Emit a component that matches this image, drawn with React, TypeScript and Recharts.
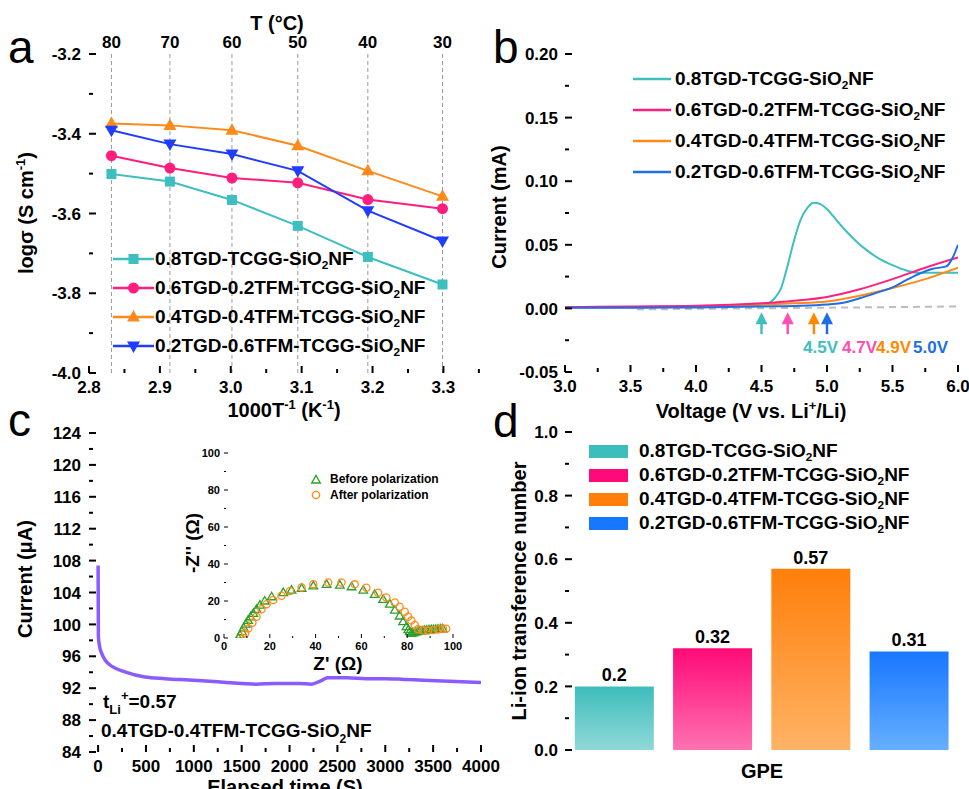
import React from "react";
import {
  Bar,
  BarChart,
  Cell,
  ComposedChart,
  LabelList,
  Legend,
  Line,
  LineChart,
  ReferenceArea,
  ReferenceLine,
  Scatter,
  ScatterChart,
  XAxis,
  YAxis,
} from "recharts";

const FONT = '"Liberation Sans", Arial, Helvetica, sans-serif';

const sampleNames = [
  "0.8TGD-TCGG-SiO2NF",
  "0.6TGD-0.2TFM-TCGG-SiO2NF",
  "0.4TGD-0.4TFM-TCGG-SiO2NF",
  "0.2TGD-0.6TFM-TCGG-SiO2NF",
];

// (a) Arrhenius plot
const aTempC = [80, 70, 60, 50, 40, 30];
const aTeal = [-3.501, -3.52, -3.566, -3.631, -3.709, -3.778];
const aPink = [-3.455, -3.486, -3.511, -3.523, -3.565, -3.588];
const aOrange = [-3.374, -3.379, -3.391, -3.43, -3.493, -3.557];
const aBlue = [-3.391, -3.426, -3.451, -3.493, -3.593, -3.669];
const aXMajor = [2.8, 2.9, 3.0, 3.1, 3.2, 3.3];
const aXMinor = [2.85, 2.95, 3.05, 3.15, 3.25, 3.35];
const aYMajor = [-4.0, -3.8, -3.6, -3.4, -3.2];
const aYMinor = [-3.9, -3.7, -3.5, -3.3];

// (b) LSV
const bTealV = [3.0, 3.5, 4.0, 4.4, 4.5, 4.55, 4.6, 4.65, 4.7, 4.75, 4.8, 4.85, 4.9, 4.95, 5.0, 5.1, 5.2, 5.3, 5.4, 5.5, 5.6, 5.7, 5.8, 6.0];
const bTealI = [0.001, 0.001, 0.0015, 0.002, 0.003, 0.004, 0.008, 0.016, 0.034, 0.054, 0.07, 0.079, 0.083, 0.082, 0.078, 0.066, 0.055, 0.046, 0.039, 0.034, 0.03, 0.028, 0.028, 0.028];
const bPinkV = [3.0, 3.5, 4.0, 4.5, 4.75, 5.0, 5.25, 5.5, 5.75, 6.0];
const bPinkI = [0.001, 0.0015, 0.002, 0.004, 0.006, 0.009, 0.015, 0.023, 0.032, 0.04];
const bOrangeV = [3.0, 3.5, 4.0, 4.5, 4.75, 5.0, 5.25, 5.5, 5.75, 6.0];
const bOrangeI = [0.001, 0.001, 0.0015, 0.003, 0.004, 0.0055, 0.01, 0.016, 0.023, 0.032];
const bBlueV = [3.0, 3.5, 4.0, 4.5, 4.8, 5.0, 5.1, 5.25, 5.4, 5.5, 5.6, 5.7, 5.8, 5.91, 5.96, 6.0];
const bBlueI = [0.0005, 0.0006, 0.0008, 0.0015, 0.002, 0.003, 0.004, 0.008, 0.013, 0.0165, 0.022, 0.027, 0.031, 0.033, 0.04, 0.05];
const bBaseV = [3.55, 6.0];
const bBaseI = [-0.0008, 0.0015];
const bOnset = [4.5, 4.7, 4.9, 5.0];
const bOnsetLabels = ["4.5V", "4.7V", "4.9V", "5.0V"];
const bArrowTip = -0.003;
const bXMajor = [3.0, 3.5, 4.0, 4.5, 5.0, 5.5, 6.0];
const bXMinor = [3.25, 3.75, 4.25, 4.75, 5.25, 5.75];
const bYMajor = [-0.05, 0, 0.05, 0.1, 0.15, 0.2];
const bYMinor = [-0.025, 0.025, 0.075, 0.125, 0.175];

// (c) chronoamperometry + EIS inset
const cTime = [0, 3, 15, 40, 75, 150, 280, 490, 700, 1000, 1250, 1500, 1650, 1850, 2100, 2230, 2320, 2400, 2600, 2800, 3000, 3200, 3400, 3600, 3800, 4000];
const cCurrent = [107.4, 98.5, 97.3, 96.3, 95.5, 94.7, 94.05, 93.4, 93.2, 93.0, 92.8, 92.6, 92.5, 92.6, 92.6, 92.5, 92.9, 93.3, 93.3, 93.2, 93.2, 93.1, 93.0, 92.9, 92.8, 92.7];
const cXMajor = [0, 500, 1000, 1500, 2000, 2500, 3000, 3500, 4000];
const cXMinor = [250, 750, 1250, 1750, 2250, 2750, 3250, 3750];
const cYMajor = [84, 88, 92, 96, 100, 104, 108, 112, 116, 120, 124];
const cYMinor = [86, 90, 94, 98, 102, 106, 110, 114, 118, 122];

const zBeforeRe = [6.3, 7, 7.8, 8.6, 9.5, 10.5, 11.6, 12.8, 14.2, 15.7, 17.8, 20.8, 25.9, 29.5, 33.9, 39, 44.8, 50.6, 55.7, 60.8, 65.8, 69.5, 72.4, 74.6, 76.7, 78.2, 79.7, 80.5, 81.1, 81.8, 82.6, 83.5, 84.5, 85.5, 86.5, 87.5, 88.5, 89.5, 90.5, 91.5, 92.5, 93.5, 94.5, 95.5];
const zBeforeIm = [0, 1.5, 3.5, 5.5, 7.5, 9.5, 11.5, 13.3, 15.5, 17.8, 20, 22.3, 24.5, 25.9, 26.8, 28.2, 29, 28.6, 27.7, 25.9, 23.6, 20.9, 18.3, 15.1, 11.9, 8.8, 6.1, 4.5, 3.4, 2.5, 2.8, 3.2, 3.5, 3.7, 3.9, 4.1, 4.3, 4.4, 4.5, 4.6, 4.7, 4.8, 4.9, 5];
const zAfterRe = [8.4, 9.2, 10.6, 12.4, 14.2, 16.4, 18.6, 21.5, 25.1, 28.8, 33.9, 39, 45.5, 51.3, 57.1, 62.2, 67.3, 70.9, 74.6, 76.7, 78.9, 80.4, 81.8, 83.3, 84.7, 86.9, 89.1, 91.3, 93.5, 95.6, 97];
const zAfterIm = [0, 2.5, 5.2, 8.3, 11.5, 15.5, 18.3, 20.5, 22.8, 25.4, 27.3, 29.1, 30, 30, 29, 27.2, 24.5, 21.9, 19.2, 16.9, 14.2, 11.5, 9.4, 7, 4.7, 4, 4, 4.3, 4.7, 5, 5];
const zMajor = [0, 20, 40, 60, 80, 100];
const zMinor = [10, 30, 50, 70, 90];

// (d) transference number
const dValues = [0.2, 0.32, 0.57, 0.31];
const dYMajor = [0, 0.2, 0.4, 0.6, 0.8, 1.0];
const dYMinor = [0.1, 0.3, 0.5, 0.7, 0.9];

const tealA = "#3DBFBF";
const pinkA = "#FF1E7D";
const orangeA = "#FF8A1C";
const blueA = "#1F3CFF";
const bColors = ["#40BFBF", "#FF1F80", "#FF8A1A", "#1E6EE6"];
const bArrowColors = ["#40BFBF", "#FF4DB0", "#FF8A00", "#1E6EE6"];
const dTop = ["#3DBDBC", "#FF0A78", "#FF7F0A", "#1877FF"];
const dBottom = ["#90D9D7", "#FF72B1", "#FFB366", "#66AFFF"];

const aInvT = aTempC.map((t) => 1000 / (t + 273.15));
const aRows = aInvT.map((x, i) => ({ x, teal: aTeal[i], pink: aPink[i], orange: aOrange[i], blue: aBlue[i] }));
const aSeries = [
  { key: "teal", color: tealA, shape: "square" },
  { key: "pink", color: pinkA, shape: "circle" },
  { key: "orange", color: orangeA, shape: "up" },
  { key: "blue", color: blueA, shape: "down" },
];

const rows = (xs: number[], ys: number[]) => xs.map((v, k) => ({ v, i: ys[k] }));
const bLines = [
  { name: sampleNames[0], data: rows(bTealV, bTealI), color: bColors[0] },
  { name: sampleNames[2], data: rows(bOrangeV, bOrangeI), color: bColors[2] },
  { name: sampleNames[1], data: rows(bPinkV, bPinkI), color: bColors[1] },
  { name: sampleNames[3], data: rows(bBlueV, bBlueI), color: bColors[3] },
];
const bArrowRows = bOnset.map((v, k) => ({ v, i: bArrowTip, k }));

const cRows = cTime.map((t, k) => ({ t, c: cCurrent[k] }));
const zBefore = zBeforeRe.map((re, k) => ({ re, im: zBeforeIm[k] }));
const zAfter = zAfterRe.map((re, k) => ({ re, im: zAfterIm[k] }));
const dRows = sampleNames.map((name, k) => ({ name, t: dValues[k] }));

function withSub(name: string) {
  const [pre, post] = name.split("SiO2");
  return (
    <>
      {pre}SiO<sub style={{ fontSize: "0.62em", verticalAlign: "-0.3em", lineHeight: 0 }}>2</sub>
      {post}
    </>
  );
}

type Side = "bottom" | "left";
function axisTick(
  side: Side,
  majors: number[],
  fmt: (v: number) => string,
  o: { fs?: number; major?: number; minor?: number; gap?: number; sw?: number } = {}
) {
  const fs = o.fs ?? 17;
  const big = o.major ?? 7;
  const small = o.minor ?? 4;
  const gap = o.gap ?? 20;
  const sw = o.sw ?? 2;
  return (p: any) => {
    const v = Number(p.payload.value);
    const isMajor = majors.some((m) => Math.abs(m - v) < 1e-6);
    const len = isMajor ? big : small;
    const label = (x: number, y: number, anchor: "middle" | "end") => (
      <text x={x} y={y} textAnchor={anchor} fontFamily={FONT} fontWeight={700} fontSize={fs} fill="#000">
        {fmt(v)}
      </text>
    );
    if (side === "bottom") {
      return (
        <g>
          {len > 0 && <line x1={p.x} x2={p.x} y1={p.y} y2={p.y - len} stroke="#000" strokeWidth={sw} />}
          {isMajor && label(p.x, p.y + gap, "middle")}
        </g>
      );
    }
    return (
      <g>
        {len > 0 && <line x1={p.x} x2={p.x + len} y1={p.y} y2={p.y} stroke="#000" strokeWidth={sw} />}
        {isMajor && label(p.x - gap, p.y + fs * 0.36, "end")}
      </g>
    );
  };
}

function marker(shape: string, cx: number, cy: number, color: string, key?: any) {
  if (shape === "square") return <rect key={key} x={cx - 5} y={cy - 5} width={10} height={10} fill={color} />;
  if (shape === "circle") return <circle key={key} cx={cx} cy={cy} r={5.5} fill={color} />;
  if (shape === "up")
    return <path key={key} d={`M${cx},${cy - 7} L${cx + 6.5},${cy + 4.5} L${cx - 6.5},${cy + 4.5} Z`} fill={color} />;
  return <path key={key} d={`M${cx},${cy + 7} L${cx + 6.5},${cy - 4.5} L${cx - 6.5},${cy - 4.5} Z`} fill={color} />;
}

const legendText: React.CSSProperties = {
  fontFamily: FONT,
  fontWeight: 700,
  fontSize: 19,
  color: "#000",
  whiteSpace: "nowrap",
};

function LegendA() {
  return (
    <div style={legendText}>
      {aSeries.map((s, k) => (
        <div key={s.key} style={{ display: "flex", alignItems: "center", height: 29 }}>
          <svg width={41} height={16}>
            <line x1={0} y1={8} x2={41} y2={8} stroke={s.color} strokeWidth={2.5} />
            {marker(s.shape, 20.5, 8, s.color)}
          </svg>
          <span style={{ marginLeft: 1 }}>{withSub(sampleNames[k])}</span>
        </div>
      ))}
    </div>
  );
}

function LegendB() {
  return (
    <div style={legendText}>
      {sampleNames.map((n, k) => (
        <div key={n} style={{ display: "flex", alignItems: "center", height: 31 }}>
          <svg width={38} height={10}>
            <line x1={0} y1={5} x2={38} y2={5} stroke={bColors[k]} strokeWidth={2.5} />
          </svg>
          <span style={{ marginLeft: 4 }}>{withSub(n)}</span>
        </div>
      ))}
    </div>
  );
}

function LegendD() {
  return (
    <div style={legendText}>
      {sampleNames.map((n, k) => (
        <div key={n} style={{ display: "flex", alignItems: "center", height: 24 }}>
          <div style={{ width: 39, height: 13, background: dTop[k] }} />
          <span style={{ marginLeft: 11 }}>{withSub(n)}</span>
        </div>
      ))}
    </div>
  );
}

const triPath = (cx: number, cy: number) => `M${cx},${cy - 4.5} L${cx + 4.3},${cy + 3} L${cx - 4.3},${cy + 3} Z`;

function LegendInset() {
  const row: React.CSSProperties = { display: "flex", alignItems: "center", height: 16 };
  return (
    <div style={{ ...legendText, fontSize: 12 }}>
      <div style={row}>
        <svg width={12} height={12}>
          <path d={triPath(6, 7)} fill="none" stroke="#2CA02C" strokeWidth={1.4} />
        </svg>
        <span style={{ marginLeft: 8 }}>Before polarization</span>
      </div>
      <div style={row}>
        <svg width={12} height={12}>
          <circle cx={6} cy={6} r={3.6} fill="none" stroke="#FF8C1A" strokeWidth={1.4} />
        </svg>
        <span style={{ marginLeft: 8 }}>After polarization</span>
      </div>
    </div>
  );
}

const frame = <ReferenceArea fill="none" stroke="#000" strokeWidth={2} ifOverflow="visible" />;

function PanelA() {
  return (
    <LineChart width={490} height={420} data={aRows} margin={{ top: 54, right: 9, bottom: 17, left: 29 }}>
      <XAxis
        type="number"
        dataKey="x"
        domain={[2.8, 3.353]}
        allowDataOverflow
        ticks={[...aXMajor, ...aXMinor]}
        interval={0}
        tickSize={0}
        tickMargin={0}
        axisLine={false}
        height={30}
        tick={axisTick("bottom", aXMajor, (v) => v.toFixed(1))}
      />
      <YAxis
        type="number"
        domain={[-4, -3.2]}
        allowDataOverflow
        ticks={[...aYMajor, ...aYMinor]}
        interval={0}
        tickSize={0}
        tickMargin={0}
        axisLine={false}
        width={60}
        tick={axisTick("left", aYMajor, (v) => v.toFixed(1), { gap: 8 })}
      />
      {aInvT.map((x, k) => (
        <ReferenceLine
          key={x}
          x={x}
          stroke="#9a9a9a"
          strokeDasharray="4 3"
          strokeWidth={1}
          label={{
            value: String(aTempC[k]),
            position: "top",
            offset: 6,
            fill: "#000",
            fontSize: 17,
            fontWeight: 700,
            fontFamily: FONT,
          }}
        />
      ))}
      {frame}
      {aSeries.map((s) => (
        <Line
          key={s.key}
          dataKey={s.key}
          stroke={s.color}
          strokeWidth={2}
          isAnimationActive={false}
          activeDot={false}
          dot={(p: any) => marker(s.shape, p.cx, p.cy, s.color, p.index)}
        />
      ))}
      <Legend
        layout="vertical"
        align="center"
        verticalAlign="middle"
        wrapperStyle={{ left: 113, top: 244, width: "auto" }}
        content={() => <LegendA />}
      />
    </LineChart>
  );
}

function arrowShape(p: any) {
  const { cx, cy } = p;
  const color = bArrowColors[p.payload.k];
  return (
    <g>
      <line x1={cx} y1={cy + 8} x2={cx} y2={cy + 22} stroke={color} strokeWidth={2.5} />
      <path d={`M${cx},${cy} L${cx + 6},${cy + 12} L${cx - 6},${cy + 12} Z`} fill={color} />
    </g>
  );
}

function PanelB() {
  return (
    <ComposedChart width={489} height={420} margin={{ top: 54, right: 11, bottom: 18, left: 25 }}>
      <XAxis
        type="number"
        dataKey="v"
        domain={[3, 6]}
        allowDataOverflow
        ticks={[...bXMajor, ...bXMinor]}
        interval={0}
        tickSize={0}
        tickMargin={0}
        axisLine={false}
        height={30}
        tick={axisTick("bottom", bXMajor, (v) => v.toFixed(1))}
      />
      <YAxis
        type="number"
        dataKey="i"
        domain={[-0.05, 0.2]}
        allowDataOverflow
        ticks={[...bYMajor, ...bYMinor]}
        interval={0}
        tickSize={0}
        tickMargin={0}
        axisLine={false}
        width={60}
        tick={axisTick("left", bYMajor, (v) => v.toFixed(2), { gap: 7 })}
      />
      {frame}
      <Line
        data={rows(bBaseV, bBaseI)}
        dataKey="i"
        stroke="#BDBDBD"
        strokeDasharray="7 5"
        strokeWidth={2}
        dot={false}
        activeDot={false}
        isAnimationActive={false}
      />
      {bLines.map((s) => (
        <Line
          key={s.name}
          data={s.data}
          dataKey="i"
          type="monotone"
          stroke={s.color}
          strokeWidth={2}
          dot={false}
          activeDot={false}
          isAnimationActive={false}
        />
      ))}
      <Scatter data={bArrowRows} dataKey="i" shape={arrowShape} isAnimationActive={false} />
      <Legend
        layout="vertical"
        align="center"
        verticalAlign="middle"
        wrapperStyle={{ left: 153, top: 63, width: "auto" }}
        content={() => <LegendB />}
      />
    </ComposedChart>
  );
}

function PanelC() {
  return (
    <LineChart width={510} height={389} data={cRows} margin={{ top: 33, right: 29, bottom: 7, left: 29 }}>
      <XAxis
        type="number"
        dataKey="t"
        domain={[-95, 4000]}
        allowDataOverflow
        ticks={[...cXMajor, ...cXMinor]}
        interval={0}
        tickSize={0}
        tickMargin={0}
        axisLine={false}
        height={30}
        tick={axisTick("bottom", cXMajor, (v) => String(v))}
      />
      <YAxis
        type="number"
        domain={[84, 124]}
        allowDataOverflow
        ticks={[...cYMajor, ...cYMinor]}
        interval={0}
        tickSize={0}
        tickMargin={0}
        axisLine={false}
        width={60}
        tick={axisTick("left", cYMajor, (v) => String(v), { gap: 8 })}
      />
      {frame}
      <Line
        dataKey="c"
        type="monotone"
        stroke="#8A5CFF"
        strokeWidth={3.5}
        dot={false}
        activeDot={false}
        isAnimationActive={false}
      />
    </LineChart>
  );
}

function PanelInset() {
  return (
    <ScatterChart width={290} height={240} margin={{ top: 13, right: 17, bottom: 17, left: 14 }}>
      <XAxis
        type="number"
        dataKey="re"
        domain={[0, 100]}
        allowDataOverflow
        ticks={[...zMajor, ...zMinor]}
        interval={0}
        tickSize={0}
        tickMargin={0}
        axisLine={false}
        height={25}
        tick={axisTick("bottom", zMajor, (v) => String(v), { fs: 11, gap: 12, major: 4, minor: 2, sw: 1 })}
      />
      <YAxis
        type="number"
        dataKey="im"
        domain={[0, 100]}
        allowDataOverflow
        ticks={[...zMajor, ...zMinor]}
        interval={0}
        tickSize={0}
        tickMargin={0}
        axisLine={false}
        width={30}
        tick={axisTick("left", zMajor, (v) => String(v), { fs: 11, gap: 4, major: 4, minor: 2, sw: 1 })}
      />
      <ReferenceArea fill="none" stroke="#444" strokeWidth={1.2} ifOverflow="visible" />
      <Scatter
        data={zBefore}
        isAnimationActive={false}
        shape={(p: any) => <path d={triPath(p.cx, p.cy)} fill="none" stroke="#2CA02C" strokeWidth={1.3} />}
      />
      <Scatter
        data={zAfter}
        isAnimationActive={false}
        shape={(p: any) => <circle cx={p.cx} cy={p.cy} r={3.6} fill="none" stroke="#FF8C1A" strokeWidth={1.3} />}
      />
      <Legend
        layout="vertical"
        align="center"
        verticalAlign="middle"
        wrapperStyle={{ left: 130, top: 31, width: "auto" }}
        content={() => <LegendInset />}
      />
    </ScatterChart>
  );
}

function PanelD() {
  return (
    <BarChart
      width={489}
      height={389}
      data={dRows}
      margin={{ top: 32, right: 11, bottom: 9, left: 25 }}
      barCategoryGap="10%"
    >
      <defs>
        {dRows.map((_, k) => (
          <linearGradient key={k} id={`dGrad${k}`} x1="0" y1="0" x2="0" y2="1">
            <stop offset="0%" stopColor={dTop[k]} />
            <stop offset="100%" stopColor={dBottom[k]} />
          </linearGradient>
        ))}
      </defs>
      <XAxis dataKey="name" tick={false} axisLine={false} tickLine={false} height={30} />
      <YAxis
        type="number"
        domain={[0, 1]}
        allowDataOverflow
        ticks={[...dYMajor, ...dYMinor]}
        interval={0}
        tickSize={0}
        tickMargin={0}
        axisLine={false}
        width={60}
        tick={axisTick("left", dYMajor, (v) => v.toFixed(1), { gap: 7 })}
      />
      {frame}
      <Bar dataKey="t" isAnimationActive={false}>
        {dRows.map((_, k) => (
          <Cell key={k} fill={`url(#dGrad${k})`} />
        ))}
        <LabelList
          dataKey="t"
          position="top"
          offset={5}
          fill="#000"
          fontSize={18}
          fontWeight={700}
          fontFamily={FONT}
        />
      </Bar>
      <Legend
        layout="vertical"
        align="center"
        verticalAlign="middle"
        wrapperStyle={{ left: 109, top: 39, width: "auto" }}
        content={() => <LegendD />}
      />
    </BarChart>
  );
}

const T = { fontFamily: FONT, fontWeight: 700, fill: "#000" } as const;

function Overlay() {
  return (
    <svg width={969} height={789} style={{ position: "absolute", left: 0, top: 0, pointerEvents: "none" }}>
      <g fontFamily={FONT} fill="#000" fontSize={46}>
        <text x={8} y={63}>a</text>
        <text x={493} y={63}>b</text>
        <text x={8} y={436}>c</text>
        <text x={493} y={437}>d</text>
      </g>
      <g {...T} fontSize={20}>
        <text x={277} y={30} textAnchor="middle">T (°C)</text>
        <text transform="translate(33,213) rotate(-90)" textAnchor="middle">
          logσ (S cm<tspan dy={-8} fontSize={13}>-1</tspan>
          <tspan dy={8}>)</tspan>
        </text>
        <text x={284} y={417} textAnchor="middle">
          1000T<tspan dy={-8} fontSize={13}>-1</tspan>
          <tspan dy={8}> (K</tspan>
          <tspan dy={-8} fontSize={13}>-1</tspan>
          <tspan dy={8}>)</tspan>
        </text>
        <text transform="translate(506,207) rotate(-90)" textAnchor="middle">Current (mA)</text>
        <text x={751} y={418} textAnchor="middle">
          Voltage (V vs. Li<tspan dy={-8} fontSize={13}>+</tspan>
          <tspan dy={8}>/Li)</tspan>
        </text>
        <text transform="translate(32,579) rotate(-90)" textAnchor="middle">Current (μA)</text>
        <text x={285} y={794} textAnchor="middle">Elapsed time (S)</text>
        <text transform="translate(526,591) rotate(-90)" textAnchor="middle">Li-ion transference number</text>
        <text x={762} y={778} textAnchor="middle">GPE</text>
      </g>
      <g {...T} fontSize={19}>
        <text x={338} y={670} textAnchor="middle">Z' (Ω)</text>
        <text transform="translate(199,543) rotate(-90)" textAnchor="middle">-Z'' (Ω)</text>
        <text x={103} y={708}>
          t<tspan dy={6} fontSize={13}>Li</tspan>
          <tspan dy={-14} fontSize={13}>+</tspan>
          <tspan dy={8}>=0.57</tspan>
        </text>
        <text x={101} y={737}>
          0.4TGD-0.4TFM-TCGG-SiO<tspan dy={6} fontSize={12}>2</tspan>
          <tspan dy={-6}>NF</tspan>
        </text>
      </g>
      <g {...T} fontSize={17}>
        {bOnsetLabels.map((s, k) => (
          <text key={s} x={[803, 842, 876, 913][k]} y={353} fill={bArrowColors[k]}>
            {s}
          </text>
        ))}
      </g>
    </svg>
  );
}

export default function App() {
  return (
    <div
      style={{
        position: "absolute",
        left: 0,
        top: 0,
        width: 969,
        height: 789,
        background: "#fff",
        overflow: "hidden",
      }}
    >
      <div style={{ position: "absolute", left: 0, top: 0 }}>
        <PanelA />
      </div>
      <div style={{ position: "absolute", left: 480, top: 0 }}>
        <PanelB />
      </div>
      <div style={{ position: "absolute", left: 0, top: 400 }}>
        <PanelC />
      </div>
      <div style={{ position: "absolute", left: 180, top: 440 }}>
        <PanelInset />
      </div>
      <div style={{ position: "absolute", left: 480, top: 400 }}>
        <PanelD />
      </div>
      <Overlay />
    </div>
  );
}
